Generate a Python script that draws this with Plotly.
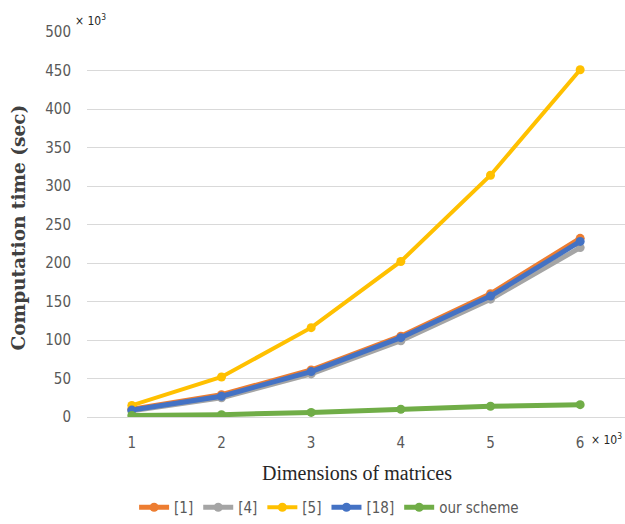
import plotly.graph_objects as go

dims = [1, 2, 3, 4, 5, 6]
tick_labels = ["1", "2", "3", "4", "5", "6"]
s_ref1 = [10, 29, 61, 105, 160, 232]
s_ref4 = [8, 25, 56, 99, 153, 220]
s_ref5 = [15, 52, 116, 202, 314, 451]
s_ref18 = [9, 27, 59, 103, 157, 228]
s_ours = [2, 3, 6, 10, 14, 16]

series = [
    ("[1]", s_ref1, "#ED7D31", 5),
    ("[4]", s_ref4, "#A5A5A5", 5),
    ("[5]", s_ref5, "#FFC000", 4),
    ("[18]", s_ref18, "#4472C4", 5),
    ("our scheme", s_ours, "#70AD47", 5),
]

W, H = 625, 524
ML, MR, MT, MB = 87, 0, 32, 106

fig = go.Figure()
for name, vals, col, lw in series:
    fig.add_trace(go.Scatter(
        x=dims, y=vals, name=name, mode="lines+markers",
        line=dict(color=col, width=lw),
        marker=dict(color=col, size=9, symbol="circle"),
    ))

narrow = "DejaVu Sans Condensed, DejaVu Sans, sans-serif"
fig.update_layout(
    width=W, height=H,
    margin=dict(l=ML, r=MR, t=MT, b=MB),
    paper_bgcolor="white", plot_bgcolor="white",
    font=dict(family=narrow, color="#595959", size=15),
    showlegend=True,
    legend=dict(orientation="h", x=0.45, xanchor="center", y=-0.235, yanchor="middle",
                font=dict(family=narrow, size=15, color="#595959"),
                itemwidth=30, tracegroupgap=0),
    xaxis=dict(range=[0.5, 6.5], tickvals=dims, ticktext=tick_labels,
               showgrid=False, zeroline=False, showline=False,
               ticks="outside", ticklen=12, tickcolor="rgba(0,0,0,0)",
               tickfont=dict(size=15, family=narrow, color="#595959")),
    yaxis=dict(range=[0, 500], dtick=50, showgrid=True, gridcolor="#D9D9D9", gridwidth=1,
               zeroline=True, zerolinecolor="#D9D9D9", zerolinewidth=1, showline=False,
               ticks="outside", ticklen=12, tickcolor="rgba(0,0,0,0)",
               tickfont=dict(size=15, family=narrow, color="#595959")),
)

pw = W - ML - MR
ph = H - MT - MB
def px(x):
    return (x - ML) / pw
def py(y):
    return (H - MB - y) / ph

fig.add_annotation(text="<b>Computation time (sec)</b>", x=px(18), y=py(228), xref="paper", yref="paper",
                   showarrow=False, textangle=-90, xanchor="center", yanchor="middle",
                   font=dict(family="DejaVu Serif", size=18.5, color="#404040"))
fig.add_annotation(text="Dimensions of matrices", x=px(357), y=py(474), xref="paper", yref="paper",
                   showarrow=False, xanchor="center", yanchor="middle",
                   font=dict(family="Liberation Serif", size=20, color="#262626"))
fig.add_annotation(text="× 10<sup>3</sup>", x=px(90), y=py(20), xref="paper", yref="paper",
                   showarrow=False, xanchor="center", yanchor="middle",
                   font=dict(family=narrow, size=12, color="#262626"))
fig.add_annotation(text="× 10<sup>3</sup>", x=px(606), y=py(440), xref="paper", yref="paper",
                   showarrow=False, xanchor="center", yanchor="middle",
                   font=dict(family=narrow, size=12, color="#262626"))

fig.write_html("out.html", config={"displayModeBar": False},
               post_script="document.body.style.margin='0';")
